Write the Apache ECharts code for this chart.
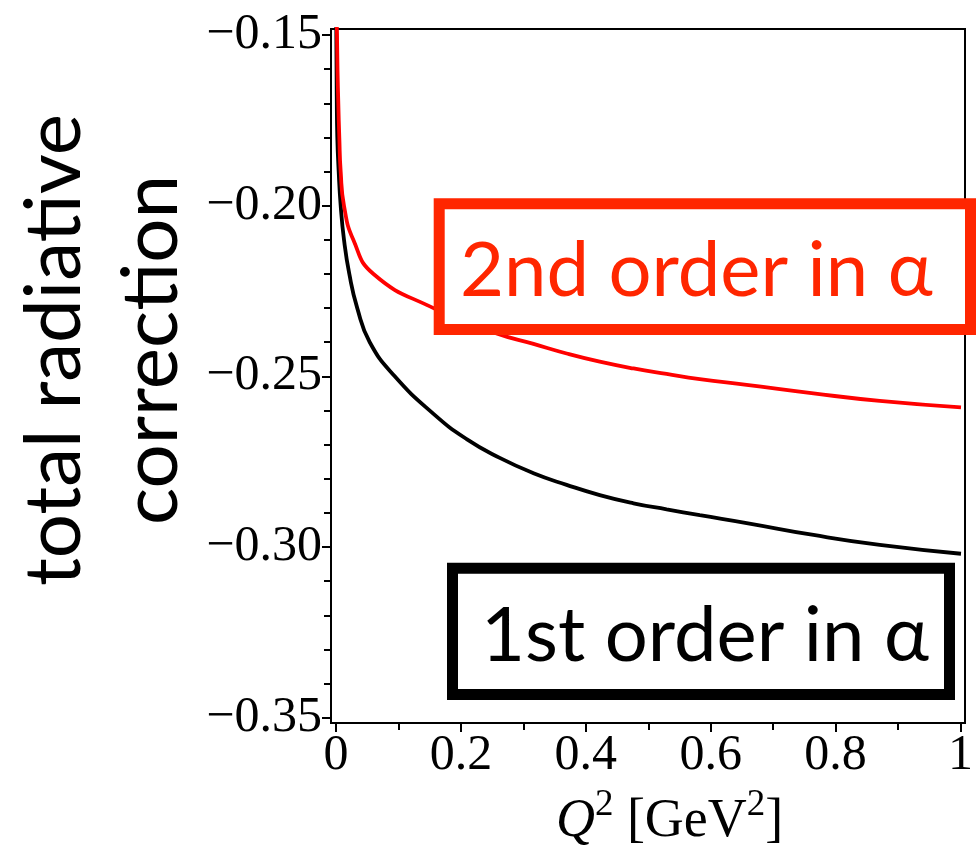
<!DOCTYPE html>
<html>
<head>
<meta charset="utf-8">
<title>total radiative correction</title>
<script src="https://cdn.jsdelivr.net/npm/echarts@6/dist/echarts.min.js"></script>
<style>
  html, body { margin: 0; padding: 0; background: #fff; }
  #chart { width: 976px; height: 851px; }
</style>
</head>
<body>
<div id="chart"></div>
<script>
// Q^2 values [GeV^2] and the total radiative correction, first order in alpha
const q2First = [0.0004, 0.0012, 0.0021, 0.0043, 0.0075, 0.0128, 0.0213, 0.034, 0.054, 0.094,
                 0.156, 0.209, 0.262, 0.316, 0.369, 0.422, 0.476, 0.529, 0.582, 0.657, 0.764, 0.870, 1.0];
const corrFirst = [-0.146, -0.168, -0.180, -0.190, -0.200, -0.210, -0.220, -0.230, -0.240, -0.250,
                   -0.261, -0.2684, -0.2739, -0.2784, -0.2818, -0.2848, -0.2872, -0.2890, -0.2907, -0.2930, -0.2965, -0.2994, -0.302];

// ... and including the second order in alpha
const q2Second = [0.0009, 0.0016, 0.0024, 0.0037, 0.0053, 0.0075, 0.0128, 0.0277, 0.060, 0.156,
                  0.257, 0.316, 0.369, 0.422, 0.476, 0.529, 0.582, 0.657, 0.764, 0.870, 1.0];
const corrSecond = [-0.146, -0.150, -0.160, -0.170, -0.180, -0.190, -0.200, -0.210, -0.220, -0.230,
                    -0.2374, -0.2405, -0.2433, -0.2457, -0.2477, -0.2493, -0.2508, -0.2525, -0.2550, -0.2572, -0.2591];

// tick values
const xTicks = [0, 0.2, 0.4, 0.6, 0.8, 1];
const yTicks = [-0.35, -0.30, -0.25, -0.20, -0.15];

// annotation texts
const labelFirst = '1st order in α';
const labelSecond = '2nd order in α';

const pairs = (xs, ys) => xs.map((x, i) => [x, ys[i]]);

const serif = '"Liberation Serif", "Times New Roman", serif';
const sans = 'Lato, "Open Sans", sans-serif';
const boxRed = '#ff2600';

const chart = echarts.init(document.getElementById('chart'), null, { renderer: 'canvas' });

chart.setOption({
  animation: false,
  backgroundColor: '#fff',
  grid: [
    // plotting frame (slightly wider than the tick range)
    { left: 331, right: 11, top: 29, bottom: 128, show: true, borderColor: '#000', borderWidth: 2, backgroundColor: 'transparent' },
    // x tick axis
    { left: 336, right: 15, top: 29, bottom: 128 },
    // y tick axis
    { left: 331, right: 11, top: 35, bottom: 133.3 }
  ],
  xAxis: [
    { gridIndex: 0, type: 'value', min: -0.008, max: 1.0064, show: false },
    {
      gridIndex: 1, type: 'value',
      min: xTicks[0], max: xTicks[xTicks.length - 1], interval: xTicks[1] - xTicks[0],
      axisLine: { show: false },
      axisTick: { show: true, length: 9, lineStyle: { color: '#000', width: 2 } },
      minorTick: { show: true, splitNumber: 2, length: 7, lineStyle: { color: '#000', width: 2 } },
      splitLine: { show: false },
      axisLabel: {
        margin: 8, color: '#000', fontFamily: serif, fontSize: 50,
        formatter: v => String(+v.toFixed(1))
      }
    },
    { gridIndex: 2, type: 'value', show: false }
  ],
  yAxis: [
    { gridIndex: 0, type: 'value', min: -0.3516, max: -0.1482, show: false },
    { gridIndex: 1, type: 'value', show: false },
    {
      gridIndex: 2, type: 'value',
      min: yTicks[0], max: yTicks[yTicks.length - 1], interval: 0.05,
      axisLine: { show: false },
      axisTick: { show: true, length: 9, lineStyle: { color: '#000', width: 2 } },
      minorTick: { show: true, splitNumber: 5, length: 7, lineStyle: { color: '#000', width: 2 } },
      splitLine: { show: false },
      axisLabel: {
        margin: 9, color: '#000', fontFamily: serif, fontSize: 50,
        formatter: v => '\u2212' + Math.abs(v).toFixed(2)
      }
    }
  ],
  series: [
    {
      name: labelFirst, type: 'line', xAxisIndex: 0, yAxisIndex: 0,
      data: pairs(q2First, corrFirst),
      smooth: 0.5, showSymbol: false, clip: true,
      lineStyle: { color: '#000', width: 3.8 }
    },
    {
      name: labelSecond, type: 'line', xAxisIndex: 0, yAxisIndex: 0,
      data: pairs(q2Second, corrSecond),
      smooth: 0.5, showSymbol: false, clip: true,
      lineStyle: { color: '#ff0000', width: 3.8 }
    }
  ],
  graphic: [
    {
      type: 'text', x: 103.5, y: 350, rotation: Math.PI / 2,
      style: {
        text: 'total radiative\ncorrection',
        font: '78px ' + sans, fill: '#000',
        textAlign: 'center', textVerticalAlign: 'middle', align: 'center', verticalAlign: 'middle',
        lineHeight: 97
      }
    },
    {
      type: 'text', x: 669.6, y: 818,
      style: {
        text: '{q|Q}{s|2}{n| [GeV}{s|2}{n|]}',
        textAlign: 'center', textVerticalAlign: 'middle', align: 'center', verticalAlign: 'middle',
        fill: '#000',
        rich: {
          q: { fontFamily: serif, fontStyle: 'italic', fontSize: 54, lineHeight: 62, verticalAlign: 'bottom' },
          n: { fontFamily: serif, fontSize: 54, lineHeight: 62, verticalAlign: 'bottom' },
          s: { fontFamily: serif, fontSize: 37, lineHeight: 62, verticalAlign: 'top' }
        }
      }
    },
    {
      type: 'rect', z: 100,
      shape: { x: 439.2, y: 203.8, width: 531.3, height: 125.7 },
      style: { fill: '#fff', stroke: boxRed, lineWidth: 11 }
    },
    {
      type: 'text', z: 101, x: 460, y: 271,
      style: {
        text: labelSecond, font: '76px ' + sans, fill: boxRed,
        textAlign: 'left', textVerticalAlign: 'middle', align: 'left', verticalAlign: 'middle'
      }
    },
    {
      type: 'rect', z: 100,
      shape: { x: 452.5, y: 568.2, width: 497, height: 126.3 },
      style: { fill: '#fff', stroke: '#000', lineWidth: 11 }
    },
    {
      type: 'text', z: 101, x: 481, y: 636,
      style: {
        text: labelFirst, font: '76px ' + sans, fill: '#000',
        textAlign: 'left', textVerticalAlign: 'middle', align: 'left', verticalAlign: 'middle'
      }
    }
  ]
});
</script>
</body>
</html>
